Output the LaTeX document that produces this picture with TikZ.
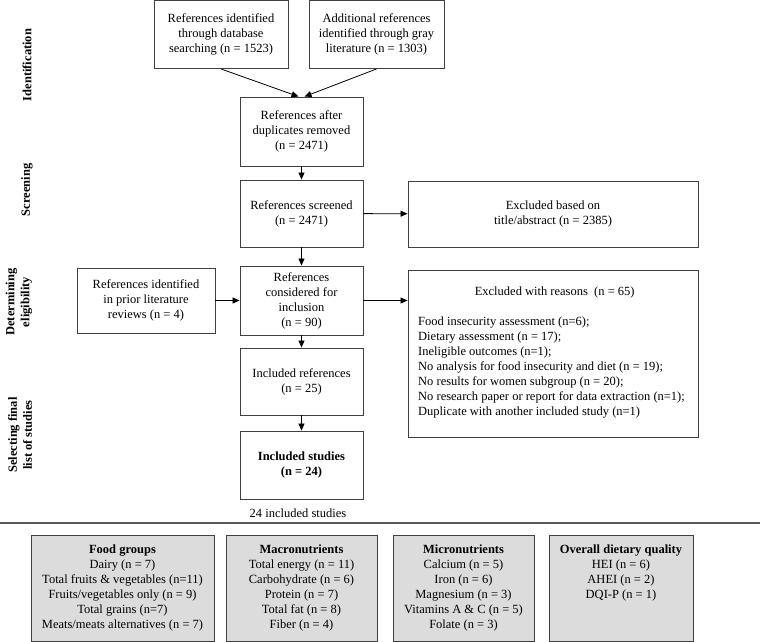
\documentclass[tikz,border=0pt]{standalone}
\usepackage{fontspec}
\setmainfont{Liberation Serif}
\usetikzlibrary{arrows.meta}
\definecolor{boxline}{HTML}{404040}
\definecolor{boxfill}{HTML}{DCDCDC}
\tikzset{
  flowbox/.style={draw=boxline, line width=0.9pt, fill=white, align=center, inner sep=2pt,
    font=\fontsize{12.5}{15}\selectfont},
  catbox/.style={draw=boxline, line width=0.9pt, fill=boxfill, inner sep=0pt},
  cattext/.style={align=center, inner sep=0pt, anchor=north, font=\fontsize{12.5}{15}\selectfont},
  stagelabel/.style={rotate=90, align=center, font=\fontsize{12.5}{15}\selectfont\bfseries},
  arr/.style={-{Triangle[length=7pt,width=6pt]}, line width=0.8pt, black},
}
\begin{document}
\begin{tikzpicture}[x=1pt,y=-1pt]
\useasboundingbox (0,0) rectangle (760,641);
% stage labels
\node[stagelabel] (lid) at (27,65) {Identification};
\node[stagelabel] (lsc) at (27,190) {Screening};
\node[stagelabel] (lel) at (19,302) {Determining\\eligibility};
\node[stagelabel] (lse) at (20,435) {Selecting final\\list of studies};
% flow boxes
\node[flowbox, minimum width=134pt, minimum height=68pt] (b1) at (221,34.5) {References identified\\through database\\searching (n = 1523)};
\node[flowbox, minimum width=135pt, minimum height=68pt] (b2) at (376.5,34.5) {Additional references\\identified through gray\\literature (n = 1303)};
\node[flowbox, minimum width=123pt, minimum height=69pt] (dup) at (301.5,131.5) {References after\\duplicates removed\\(n = 2471)};
\node[flowbox, minimum width=123pt, minimum height=67pt] (scr) at (301.5,213.5) {References screened\\(n = 2471)};
\node[flowbox, minimum width=290pt, minimum height=66pt] (ex1) at (553,214) {Excluded based on\\title/abstract (n = 2385)};
\node[flowbox, minimum width=123pt, minimum height=69pt] (elig) at (301.5,300.5) {References\\considered for\\inclusion\\(n = 90)};
\node[flowbox, minimum width=138pt, minimum height=65pt] (prior) at (146,300.5) {References identified\\in prior literature\\reviews (n = 4)};
\node[flowbox, minimum width=290pt, minimum height=167pt] (ex2) at (553,353.5) {};
\node[align=left, anchor=north west, inner sep=0pt, font=\fontsize{12.5}{15}\selectfont] (ex2t) at (418,287) {%
\makebox[273pt][c]{Excluded with reasons\ \ (n = 65)}\\[15pt]
Food insecurity assessment (n=6);\\
Dietary assessment (n = 17);\\
Ineligible outcomes (n=1);\\
No analysis for food insecurity and diet (n = 19);\\
No results for women subgroup (n = 20);\\
No research paper or report for data extraction (n=1);\\
Duplicate with another included study (n=1)};
\node[flowbox, minimum width=123pt, minimum height=67pt] (incl) at (301.5,381.5) {Included references\\(n = 25)};
\node[flowbox, minimum width=123pt, minimum height=68pt, font=\fontsize{12.5}{15}\selectfont\bfseries] (stud) at (301.5,465) {Included studies\\(n = 24)};
\node[font=\fontsize{12.5}{15}\selectfont, inner sep=0pt] (note) at (298,513) {24 included studies};
% arrows
\draw[arr] (b1.south) -- ([xshift=-3pt]dup.north);
\draw[arr] (b2.south) -- ([xshift=3pt]dup.north);
\draw[arr] (dup) -- (scr);
\draw[arr] (scr) -- (ex1);
\draw[arr] (scr) -- (elig);
\draw[arr] (prior) -- (elig);
\draw[arr] (elig) -- (ex2.west |- elig);
\draw[arr] (elig) -- (incl);
\draw[arr] (incl) -- (stud);
% separator
\coordinate (sepl) at (0,523);
\coordinate (sepr) at (760,523);
\draw[line width=1.6pt, black!65] (sepl) -- (sepr);
% category boxes
\node[catbox, minimum width=183pt, minimum height=106pt, anchor=north] (fg) at (122.5,534.5) {};
\node[catbox, minimum width=151pt, minimum height=106pt, anchor=north] (ma) at (301.5,534.5) {};
\node[catbox, minimum width=141pt, minimum height=106pt, anchor=north] (mi) at (463.5,534.5) {};
\node[catbox, minimum width=144pt, minimum height=106pt, anchor=north] (od) at (621,534.5) {};
\node[cattext] (fgt) at (122.5,545) {\textbf{Food groups}\\Dairy (n = 7)\\Total fruits \& vegetables (n=11)\\Fruits/vegetables only (n = 9)\\Total grains (n=7)\\Meats/meats alternatives (n = 7)};
\node[cattext] (mat) at (301.5,545) {\textbf{Macronutrients}\\Total energy (n = 11)\\Carbohydrate (n = 6)\\Protein (n = 7)\\Total fat (n = 8)\\Fiber (n = 4)};
\node[cattext] (mit) at (463.5,545) {\textbf{Micronutrients}\\Calcium (n = 5)\\Iron (n = 6)\\Magnesium (n = 3)\\Vitamins A \& C (n = 5)\\Folate (n = 3)};
\node[cattext] (odt) at (621,545) {\textbf{Overall dietary quality}\\HEI (n = 6)\\AHEI (n = 2)\\DQI-P (n = 1)};
\end{tikzpicture}
\end{document}
